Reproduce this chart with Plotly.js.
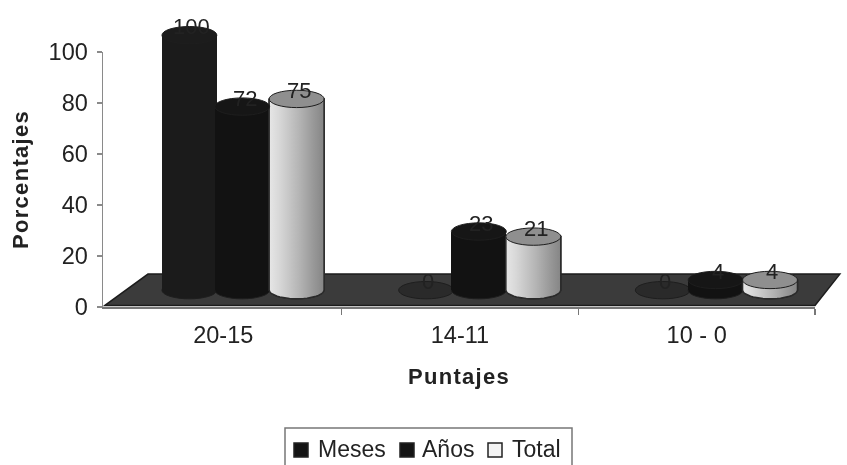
<!DOCTYPE html>
<html>
<head>
<meta charset="utf-8">
<script src="https://cdn.plot.ly/plotly-3.0.1.min.js"></script>
<style>
html,body{margin:0;padding:0;background:#fff}
#c{width:847px;height:465px;filter:blur(0.45px)}
.xtitle,.ytitle{letter-spacing:1.3px}
</style>
</head>
<body>
<div id="c"></div>
<script>
const categories = ["20-15", "14-11", "10 - 0"];
const meses = [100, 0, 0];
const anos = [72, 23, 4];
const total = [75, 21, 4];
const seriesNames = ["Meses", "Años", "Total"];
const yTicks = [0, 20, 40, 60, 80, 100];

const FONT = "Liberation Sans, Arial, sans-serif";
const INK = "#222";
const groupPos = categories.map((_, i) => i);
const offsets = [-0.143, 0.08, 0.31];
const floorLift = 6.6;      // depth of the 3D floor, in axis units
const halfW = 0.116, capRy = 3.4;
const bodyCol = ["#1b1b1b", "#121212", "#e8e8e8"];
const capCol = ["#1c1c1c", "#161616", "#8f8f8f"];
const series = [meses, anos, total];
const ON = {xaxis: "x2", yaxis: "y2"};

const traces = series.map((vals, s) => ({
  type: "bar", name: seriesNames[s], ...ON,
  x: groupPos.map(p => p + offsets[s]), y: vals,
  base: vals.map(() => floorLift), width: halfW * 2,
  marker: {color: bodyCol[s], line: {color: "#2a2a2a", width: s === 2 ? 1.5 : 0}},
  hoverinfo: "skip", showlegend: false
}));

// rounded shaded body of the light cylinders
total.forEach((v, i) => {
  const cx = i + offsets[2], xs = [], ys = [];
  xs.push(cx - halfW); ys.push(floorLift + v);
  xs.push(cx + halfW); ys.push(floorLift + v);
  for (let a = 0; a <= 24; a++) {
    const t = Math.PI * a / 24;
    xs.push(cx + halfW * Math.cos(t));
    ys.push(floorLift - capRy * Math.sin(t));
  }
  xs.push(xs[0]); ys.push(ys[0]);
  traces.push({
    type: "scatter", mode: "lines", ...ON, x: xs, y: ys, fill: "toself", showlegend: false,
    hoverinfo: "skip",
    line: {color: "#2a2a2a", width: 1.5},
    fillgradient: {type: "horizontal", colorscale: [[0, "#e6e6e6"], [0.18, "#d8d8d8"], [0.55, "#b4b4b4"], [0.8, "#999"], [1, "#858585"]]}
  });
});
// keeps the visible x/y axis pair in the figure
traces.push({type: "scatter", mode: "markers", x: [], y: [], showlegend: false, hoverinfo: "skip"});

const ell = (cx, cy, fill, layer, lw) => ({
  type: "circle", xref: "x2", yref: "y2", layer: layer,
  x0: cx - halfW, x1: cx + halfW, y0: cy - capRy, y1: cy + capRy,
  fillcolor: fill, line: {color: "#1e1e1e", width: lw}
});
const shapes = [];
shapes.push({
  type: "path", xref: "x2", yref: "y2", layer: "below", fillcolor: "#3b3b3b",
  line: {color: "#1c1c1c", width: 1.5},
  path: "M -0.5 0.6 L -0.318 12.9 L 2.605 12.9 L 2.5 0.6 Z"
});
series.forEach((vals, s) => vals.forEach((v, i) => {
  shapes.push(ell(i + offsets[s], floorLift, v > 0 ? bodyCol[s] : "#2a2a2a", "below", 1));
}));
series.forEach((vals, s) => vals.forEach((v, i) => {
  if (v > 0) shapes.push(ell(i + offsets[s], floorLift + v, capCol[s], "above", 1));
}));

const annotations = [];
series.forEach((vals, s) => vals.forEach((v, i) => annotations.push({
  xref: "x2", yref: "y2", x: i + offsets[s] + 0.01, y: floorLift + v + 3.3,
  yanchor: "middle", showarrow: false, text: String(v), font: {family: FONT, size: 22, color: INK}
})));

// legend box, running off the bottom of the picture as in the reference
const px = x => (x - 103) / 742, py = y => (307 - y) / 293;
shapes.push({type: "rect", xref: "paper", yref: "paper", x0: px(285), x1: px(572), y0: py(475), y1: py(428),
  fillcolor: "#fff", line: {color: "#777", width: 1.5}, layer: "above"});
const legendSym = [294, 400, 488], legendTxt = [316, 420, 510];
seriesNames.forEach((n, s) => {
  shapes.push({type: "rect", xref: "paper", yref: "paper", x0: px(legendSym[s]), x1: px(legendSym[s] + 14), y0: py(457), y1: py(443),
    fillcolor: s === 2 ? "#f4f4f4" : "#141414", line: {color: "#222", width: 1.5}, layer: "above"});
  annotations.push({xref: "paper", yref: "paper", x: px(legendTxt[s]), y: py(449), xanchor: "left", yanchor: "middle",
    showarrow: false, text: n, font: {family: FONT, size: 23, color: INK}});
});

const layout = {
  width: 847, height: 465, paper_bgcolor: "#fff", plot_bgcolor: "rgba(0,0,0,0)",
  margin: {l: 103, r: 2, t: 14, b: 158, pad: 0},
  barmode: "overlay", bargap: 0, showlegend: false,
  font: {family: FONT, color: INK},
  xaxis: {
    domain: [0, 712 / 742], range: [-0.508, 2.5], anchor: "y",
    tickmode: "array", tickvals: groupPos, ticktext: categories,
    ticks: "", showline: true, linecolor: "#777", linewidth: 1.5, showgrid: false, zeroline: false,
    ticklabelstandoff: 6, tickfont: {family: FONT, size: 23.5, color: INK},
    minor: {tickmode: "array", tickvals: [0.5, 1.5, 2.5], ticks: "outside", ticklen: 6, tickcolor: "#777", tickwidth: 1.5, showgrid: false},
    title: {text: "<b>Puntajes</b>", standoff: 22, font: {family: FONT, size: 22, color: INK}}
  },
  yaxis: {
    domain: [0, 255 / 293], range: [0, 100], anchor: "x",
    tickmode: "array", tickvals: yTicks, ticks: "outside", ticklen: 5,
    tickcolor: "#8a8a8a", tickwidth: 1.5, showline: true, linecolor: "#8a8a8a", linewidth: 1.5, showgrid: false, zeroline: false,
    ticklabelstandoff: 4, tickfont: {family: FONT, size: 23.5, color: INK},
    title: {text: "<b>Porcentajes</b>", standoff: 14, font: {family: FONT, size: 22, color: INK}}
  },
  // full-size hidden pair on the same scale: lets the 3D cylinders rise past 100 and the floor overhang
  xaxis2: {domain: [0, 1], range: [-0.508, -0.508 + 742 / 236.7], anchor: "y2", visible: false},
  yaxis2: {domain: [0, 1], range: [0, 293 / 2.55], anchor: "x2", visible: false},
  shapes, annotations
};
Plotly.newPlot("c", traces, layout, {displayModeBar: false, staticPlot: true});
</script>
</body>
</html>
